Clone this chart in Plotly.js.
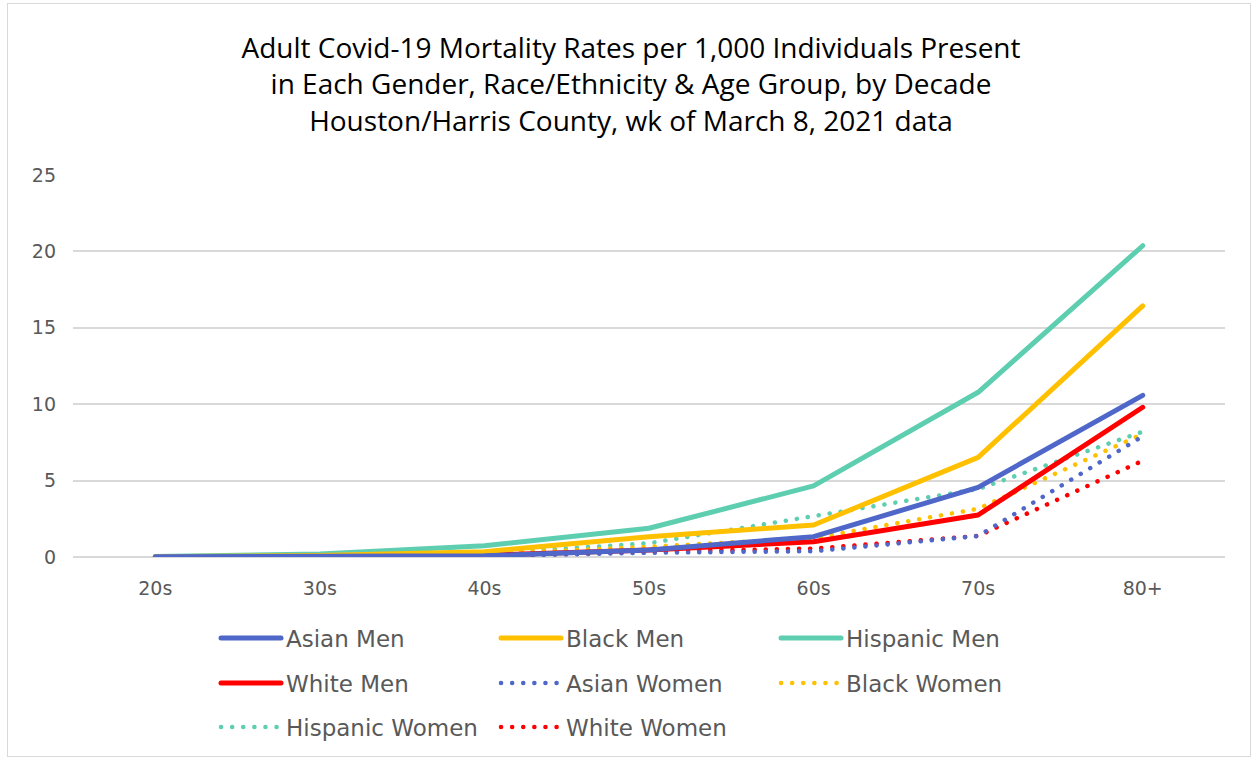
<!DOCTYPE html>
<html>
<head>
<meta charset="utf-8">
<script src="https://cdn.plot.ly/plotly-3.0.1.min.js"></script>
<style>
  html, body { margin: 0; padding: 0; background: #fff; }
  #frame { position: absolute; left: 7px; top: 3px; width: 1244px; height: 754px; border: 1px solid #d9d9d9; box-sizing: border-box; }
  #chart { position: absolute; left: 0; top: 0; width: 1253px; height: 759px; }
  .js-line, .legendlines path { stroke-linecap: round; stroke-linejoin: round; }
</style>
</head>
<body>
<div id="frame"></div>
<div id="chart"></div>
<script>
const ageGroups = ["20s", "30s", "40s", "50s", "60s", "70s", "80+"];

const asianMen      = [0.02, 0.05, 0.08, 0.46, 1.33, 4.56, 10.58];
const blackMen      = [0.02, 0.10, 0.35, 1.33, 2.09, 6.52, 16.43];
const hispanicMen   = [0.03, 0.20, 0.74, 1.88, 4.65, 10.78, 20.37];
const whiteMen      = [0.02, 0.04, 0.12, 0.45, 1.00, 2.75, 9.80];
const asianWomen    = [0.01, 0.02, 0.05, 0.28, 0.38, 1.37, 7.90];
const blackWomen    = [0.01, 0.05, 0.20, 0.67, 1.24, 3.16, 8.05];
const hispanicWomen = [0.01, 0.08, 0.22, 0.90, 2.64, 4.45, 8.20];
const whiteWomen    = [0.01, 0.02, 0.08, 0.35, 0.55, 1.38, 6.30];

const seriesNames = ["Asian Men", "Black Men", "Hispanic Men", "White Men",
                     "Asian Women", "Black Women", "Hispanic Women", "White Women"];

const BLUE = "#4E67C8", GOLD = "#FFC000", TEAL = "#5DCEAF", RED = "#FF0000";

function solid(name, y, color, legend) {
  return { type: "scatter", mode: "lines", name: name, x: ageGroups, y: y,
           line: { color: color, width: 5 }, legend: legend, hoverinfo: "x+y+name" };
}
function dotted(name, y, color, legend) {
  return { type: "scatter", mode: "lines", name: name, x: ageGroups, y: y,
           line: { color: color, width: 4.5, dash: "0.1px,11px" }, legend: legend, hoverinfo: "x+y+name" };
}

const data = [
  dotted(seriesNames[7], whiteWomen, RED, "legend3"),
  dotted(seriesNames[6], hispanicWomen, TEAL, "legend3"),
  dotted(seriesNames[5], blackWomen, GOLD, "legend2"),
  dotted(seriesNames[4], asianWomen, BLUE, "legend2"),
  solid(seriesNames[3], whiteMen, RED, "legend2"),
  solid(seriesNames[2], hispanicMen, TEAL, "legend"),
  solid(seriesNames[1], blackMen, GOLD, "legend"),
  solid(seriesNames[0], asianMen, BLUE, "legend")
];

const legFont = { family: "DejaVu Sans, Lato, sans-serif", size: 23, color: "#595959" };
function leg(y) {
  return { orientation: "h", xref: "container", yref: "container",
           x: 216 / 1253, y: 1 - y / 759, xanchor: "left", yanchor: "middle",
           entrywidth: 205, entrywidthmode: "pixels", traceorder: "reversed",
           font: legFont, bgcolor: "rgba(0,0,0,0)", itemwidth: 60 };
}

const layout = {
  width: 1253, height: 759,
  paper_bgcolor: "rgba(0,0,0,0)", plot_bgcolor: "#fff",
  margin: { l: 73, r: 28, t: 175, b: 202 },
  title: {
    text: "Adult Covid-19 Mortality Rates per 1,000 Individuals Present<br>in Each Gender, Race/Ethnicity &amp; Age Group, by Decade<br>Houston/Harris County, wk of March 8, 2021 data",
    font: { family: "Open Sans, sans-serif", size: 28, color: "#000" },
    x: 631 / 1253, xanchor: "center", xref: "container",
    y: 1 - 58 / 759, yanchor: "top", yref: "container"
  },
  xaxis: {
    type: "category", range: [-0.5, 6.5], showgrid: false, showline: false, zeroline: false,
    tickfont: { family: "DejaVu Sans, Lato, sans-serif", size: 19, color: "#595959" },
    ticks: "", ticklabelstandoff: 18, fixedrange: true
  },
  yaxis: {
    range: [0, 25], dtick: 5, tick0: 0,
    showgrid: true, gridcolor: "#d9d9d9", gridwidth: 1.5,
    zeroline: true, zerolinecolor: "#d9d9d9", zerolinewidth: 1.5,
    showline: false, ticks: "",
    tickfont: { family: "DejaVu Sans, Lato, sans-serif", size: 19, color: "#595959" },
    ticklabelstandoff: 16, fixedrange: true
  },
  legend: leg(638),
  legend2: leg(683),
  legend3: leg(727),
  showlegend: true
};

Plotly.newPlot("chart", data, layout, { displayModeBar: false });
</script>
</body>
</html>
